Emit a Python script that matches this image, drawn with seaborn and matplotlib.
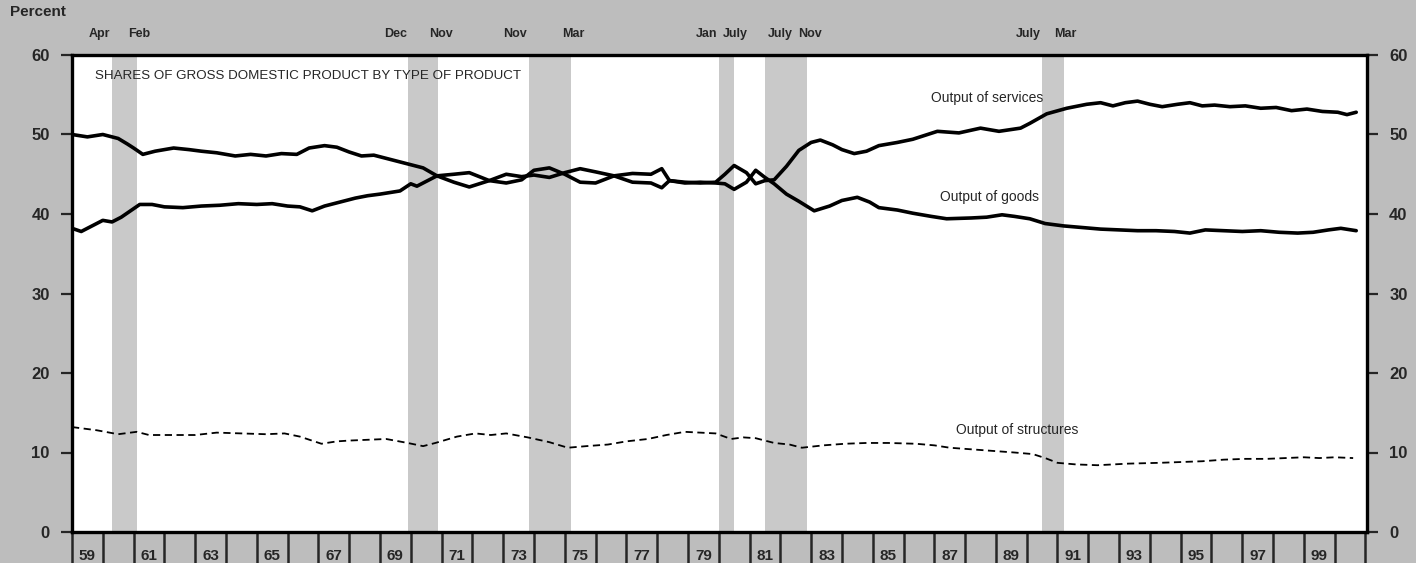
import pandas as pd
import seaborn as sns
import matplotlib.pyplot as plt
from matplotlib.transforms import blended_transform_factory

# shares of GDP, percent
svc_years = [1959.0, 1959.5, 1960.0, 1960.5, 1960.8, 1961.0, 1961.3, 1961.7, 1962.3, 1962.8,
             1963.2, 1963.7, 1964.3, 1964.8, 1965.3, 1965.8, 1966.3, 1966.7, 1967.2, 1967.6,
             1968.0, 1968.4, 1968.8, 1969.2, 1969.6, 1970.0, 1970.4, 1970.85, 1971.4, 1971.9,
             1972.55, 1973.1, 1973.6, 1974.0, 1974.5, 1975.0, 1975.5, 1976.0, 1976.6, 1977.2,
             1977.8, 1978.15, 1978.4, 1978.9, 1979.4, 1979.9, 1980.2, 1980.5, 1980.9, 1981.2,
             1981.5, 1981.8, 1982.2, 1982.6, 1983.0, 1983.3, 1983.7, 1984.0, 1984.4, 1984.8,
             1985.2, 1985.8, 1986.3, 1987.1, 1987.8, 1988.5, 1989.1, 1989.8, 1990.1, 1990.65,
             1991.3, 1991.95, 1992.4, 1992.8, 1993.2, 1993.6, 1994.0, 1994.4, 1994.9, 1995.3,
             1995.7, 1996.1, 1996.6, 1997.1, 1997.6, 1998.1, 1998.6, 1999.1, 1999.6, 2000.1,
             2000.4, 2000.7]
svc_share = [50.0, 49.7, 50.0, 49.5, 48.8, 48.3, 47.5, 47.9, 48.3, 48.1,
             47.9, 47.7, 47.3, 47.5, 47.3, 47.6, 47.5, 48.3, 48.6, 48.4,
             47.8, 47.3, 47.4, 47.0, 46.6, 46.2, 45.8, 44.8, 44.0, 43.4,
             44.2, 45.0, 44.7, 44.9, 44.6, 45.2, 45.7, 45.3, 44.8, 44.0,
             43.9, 43.3, 44.2, 44.0, 43.9, 44.0, 45.0, 46.1, 45.2, 43.8,
             44.2, 44.3, 46.0, 48.0, 49.0, 49.3, 48.7, 48.1, 47.6, 47.9,
             48.6, 49.0, 49.4, 50.4, 50.2, 50.8, 50.4, 50.8, 51.4, 52.6,
             53.3, 53.8, 54.0, 53.6, 54.0, 54.2, 53.8, 53.5, 53.8, 54.0,
             53.6, 53.7, 53.5, 53.6, 53.3, 53.4, 53.0, 53.2, 52.9, 52.8,
             52.5, 52.8]

gds_years = [1959.0, 1959.3, 1959.7, 1960.0, 1960.3, 1960.6, 1960.9, 1961.2, 1961.6, 1962.0,
             1962.6, 1963.2, 1963.8, 1964.4, 1965.0, 1965.5, 1966.0, 1966.4, 1966.8, 1967.2,
             1967.7, 1968.2, 1968.6, 1969.0, 1969.65, 1970.0, 1970.2, 1970.4, 1970.85, 1971.4,
             1971.9, 1972.55, 1973.1, 1973.6, 1974.0, 1974.5, 1975.0, 1975.5, 1976.0, 1976.6,
             1977.2, 1977.8, 1978.15, 1978.4, 1978.9, 1979.4, 1979.9, 1980.2, 1980.5, 1980.9,
             1981.2, 1981.5, 1981.8, 1982.2, 1982.6, 1983.1, 1983.6, 1984.0, 1984.5, 1984.9,
             1985.2, 1985.8, 1986.3, 1986.9, 1987.4, 1988.2, 1988.7, 1989.2, 1989.6, 1990.1,
             1990.6, 1991.2, 1991.8, 1992.4, 1993.0, 1993.6, 1994.2, 1994.8, 1995.3, 1995.8,
             1996.4, 1997.0, 1997.6, 1998.2, 1998.8, 1999.3, 1999.8, 2000.2, 2000.7]
gds_share = [38.2, 37.8, 38.6, 39.2, 39.0, 39.6, 40.4, 41.2, 41.2, 40.9,
             40.8, 41.0, 41.1, 41.3, 41.2, 41.3, 41.0, 40.9, 40.4, 41.0,
             41.5, 42.0, 42.3, 42.5, 42.9, 43.8, 43.5, 43.9, 44.8, 45.0,
             45.2, 44.2, 43.9, 44.3, 45.5, 45.8, 45.0, 44.0, 43.9, 44.8,
             45.1, 45.0, 45.7, 44.2, 43.9, 44.0, 43.9, 43.8, 43.1, 44.0,
             45.5, 44.6, 43.8, 42.5, 41.6, 40.4, 41.0, 41.7, 42.1, 41.5,
             40.8, 40.5, 40.1, 39.7, 39.4, 39.5, 39.6, 39.9, 39.7, 39.4,
             38.8, 38.5, 38.3, 38.1, 38.0, 37.9, 37.9, 37.8, 37.6, 38.0,
             37.9, 37.8, 37.9, 37.7, 37.6, 37.7, 38.0, 38.2, 37.9]

str_years = [1959.0, 1959.8, 1960.5, 1961.1, 1961.5, 1962.2, 1963.0, 1963.7, 1964.5, 1965.3,
             1965.9, 1966.4, 1967.1, 1967.6, 1968.0, 1968.6, 1969.2, 1969.9, 1970.4, 1970.8,
             1971.5, 1972.1, 1972.6, 1973.1, 1973.8, 1974.5, 1975.1, 1975.7, 1976.4, 1977.0,
             1977.7, 1978.3, 1978.9, 1979.4, 1979.9, 1980.4, 1980.8, 1981.2, 1981.8, 1982.3,
             1982.7, 1983.4, 1984.1, 1984.8, 1985.5, 1986.4, 1987.0, 1987.5, 1988.2, 1988.9,
             1989.6, 1990.2, 1990.6, 1991.0, 1991.6, 1992.3, 1993.3, 1994.3, 1995.0, 1995.7,
             1996.4, 1997.1, 1997.8, 1998.4, 1999.0, 1999.5, 2000.0, 2000.6]
str_share = [13.2, 12.8, 12.3, 12.6, 12.2, 12.2, 12.2, 12.5, 12.4, 12.3,
             12.4, 12.0, 11.1, 11.4, 11.5, 11.6, 11.7, 11.2, 10.8, 11.2,
             12.0, 12.4, 12.2, 12.4, 11.9, 11.3, 10.6, 10.8, 11.0, 11.4,
             11.7, 12.2, 12.6, 12.5, 12.4, 11.7, 11.9, 11.8, 11.2, 11.0,
             10.6, 10.9, 11.1, 11.2, 11.2, 11.1, 10.9, 10.6, 10.4, 10.2,
             10.0, 9.8, 9.3, 8.7, 8.5, 8.4, 8.6, 8.7, 8.8, 8.9,
             9.1, 9.2, 9.2, 9.3, 9.4, 9.3, 9.4, 9.3]

# recessions: peak / trough
rec_start = [1960.30, 1969.92, 1973.83, 1980.00, 1981.50, 1990.50]
rec_end = [1961.12, 1970.88, 1975.20, 1980.50, 1982.88, 1991.20]
peak_lbl = ['Apr', 'Dec', 'Nov', 'Jan', 'July', 'July']
trough_lbl = ['Feb', 'Nov', 'Mar', 'July', 'Nov', 'Mar']

yticks = [0, 10, 20, 30, 40, 50, 60]
year_lbl = [str(y % 100).zfill(2) for y in range(1959, 2000, 2)]

sns.set_style('ticks')
plt.rcParams['font.family'] = ['Liberation Sans', 'DejaVu Sans']

bg = '#bdbdbd'
fig = plt.figure(figsize=(14.16, 5.63), dpi=100, facecolor=bg)
ax = fig.add_axes([72 / 1416, 31 / 563, 1295 / 1416, 477 / 563])
ax.set_facecolor('white')

for a, b in zip(rec_start, rec_end):
    ax.axvspan(a, b, color='#c9c9c9', lw=0, zorder=0)

df_s = pd.DataFrame({'year': svc_years, 'share': svc_share})
df_g = pd.DataFrame({'year': gds_years, 'share': gds_share})
df_t = pd.DataFrame({'year': str_years, 'share': str_share})
sns.lineplot(data=df_s, x='year', y='share', ax=ax, color='black', lw=2.6)
sns.lineplot(data=df_g, x='year', y='share', ax=ax, color='black', lw=2.6)
sns.lineplot(data=df_t, x='year', y='share', ax=ax, color='black', lw=1.3,
             linestyle=(0, (4, 2.5)))

ax.set_xlim(1959, 2001.05)
ax.set_ylim(0, 60)
ax.set_xlabel('')
ax.set_ylabel('')

# y axis both sides
ax.set_yticks(yticks)
ax.tick_params(axis='y', which='both', left=True, right=True, labelleft=True,
               labelright=True, direction='out', length=8, width=1.6, pad=8,
               labelsize=12)
for lbl in ax.get_yticklabels():
    lbl.set_fontweight('bold')

# x axis: year boundaries as tick marks, labels centred in the year
ax.set_xticks(range(1959, 2002), minor=True)
ax.set_xticks([y + 0.5 for y in range(1959, 2000, 2)])
ax.set_xticklabels(year_lbl, fontweight='bold', fontsize=11)
ax.tick_params(axis='x', which='minor', direction='out', length=22, width=1.8)
ax.tick_params(axis='x', which='major', length=0, pad=12)

for s in ax.spines.values():
    s.set_linewidth(2.4)
    s.set_color('black')
    s.set_visible(True)

# month labels over the shaded bands; where bands crowd together the labels
# are set inside the band instead of outside it
trans = blended_transform_factory(ax.transData, ax.transAxes)
prev_end = 1900
for a, b, p, t in zip(rec_start, rec_end, peak_lbl, trough_lbl):
    if a - prev_end < 1.5:
        ax.text(a + 0.1, 1.045, p, transform=trans, ha='left', va='center',
                fontsize=9, fontweight='bold')
    else:
        ax.text(a - 0.05, 1.045, p, transform=trans, ha='right', va='center',
                fontsize=9, fontweight='bold')
    tx = a + 0.15 if b - a < 0.6 else b - 0.3
    ax.text(tx, 1.045, t, transform=trans, ha='left', va='center',
            fontsize=9, fontweight='bold')
    prev_end = b

fig.text(10 / 1416, 1 - 12 / 563, 'Percent', ha='left', va='center',
         fontsize=11, fontweight='bold')

ax.text(0.018, 0.955, 'SHARES OF GROSS DOMESTIC PRODUCT BY TYPE OF PRODUCT',
        transform=ax.transAxes, ha='left', va='center', fontsize=9.6)

ax.text(1986.9, 54.6, 'Output of services', ha='left', va='center', fontsize=10)
ax.text(1987.2, 42.2, 'Output of goods', ha='left', va='center', fontsize=10)
ax.text(1987.7, 12.8, 'Output of structures', ha='left', va='center', fontsize=10)

fig.savefig('out.png', dpi=100, facecolor=bg)
